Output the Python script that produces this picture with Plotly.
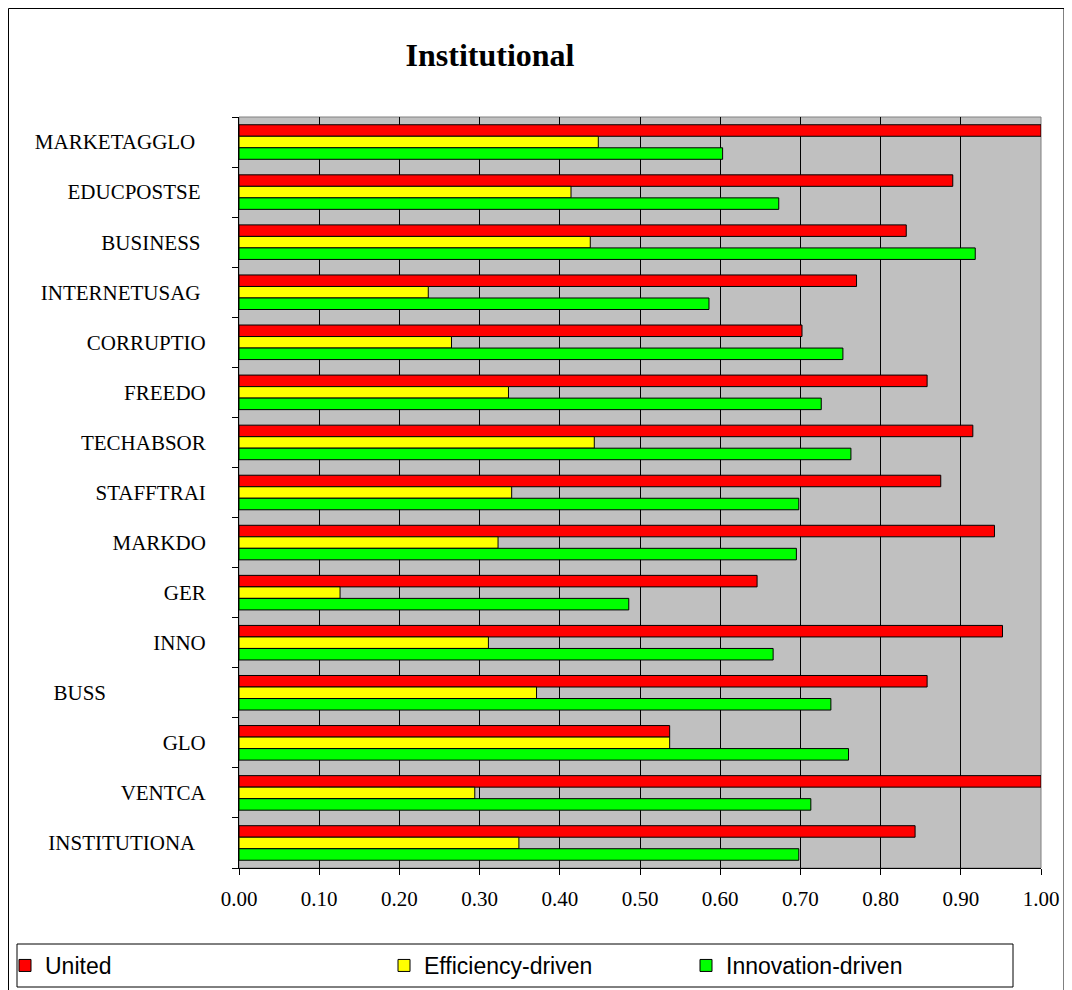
import plotly.graph_objects as go

categories = ["MARKETAGGLO", "EDUCPOSTSE", "BUSINESS", "INTERNETUSAG", "CORRUPTIO",
              "FREEDO", "TECHABSOR", "STAFFTRAI", "MARKDO", "GER", "INNO", "BUSS",
              "GLO", "VENTCA", "INSTITUTIONA"]
tick_labels = ["MARKETAGGLO\u00a0\u00a0", "EDUCPOSTSE\u00a0", "BUSINESS\u00a0", "INTERNETUSAG\u00a0",
               "CORRUPTIO", "FREEDO", "TECHABSOR", "STAFFTRAI", "MARKDO", "GER", "INNO",
               "BUSS" + "\u00a0" * 19, "GLO", "VENTCA", "INSTITUTIONA\u00a0\u00a0"]
united = [1.00, 0.890, 0.832, 0.770, 0.702, 0.858, 0.915, 0.875, 0.942, 0.646,
          0.952, 0.858, 0.537, 1.00, 0.843]
efficiency = [0.448, 0.414, 0.438, 0.236, 0.265, 0.336, 0.443, 0.340, 0.323, 0.126,
              0.311, 0.371, 0.537, 0.294, 0.349]
innovation = [0.603, 0.673, 0.918, 0.586, 0.753, 0.726, 0.763, 0.698, 0.695, 0.486,
              0.666, 0.738, 0.760, 0.713, 0.698]
x_ticks = [0.0, 0.1, 0.2, 0.3, 0.4, 0.5, 0.6, 0.7, 0.8, 0.9, 1.0]
x_tick_labels = ["0.00", "0.10", "0.20", "0.30", "0.40", "0.50", "0.60", "0.70", "0.80", "0.90", "1.00"]

series = [("United", united, "#FF0000", "legend"),
          ("Efficiency-driven", efficiency, "#FFFF00", "legend2"),
          ("Innovation-driven", innovation, "#00FF00", "legend3")]

fig = go.Figure()
for name, vals, color, lg in series:
    fig.add_trace(go.Bar(
        y=categories, x=vals, name=name, orientation="h",
        marker=dict(color=color, line=dict(color="black", width=1)),
        legend=lg, showlegend=True,
    ))

# page body has an 8px margin: work in screen coordinates, convert to figure
OFF = 8
SW, SH = 1072, 990
W, H = SW - OFF, SH - OFF
L, R, T, B = 239, 1041, 117, 868  # plot area in screen px

def px(v):
    return (v - L) / (R - L)

def py(v):
    return (B - v) / (B - T)

serif = "Liberation Serif, Times New Roman, serif"
sans = "Liberation Sans, Arial, sans-serif"

leg_common = dict(orientation="h", yanchor="middle", xanchor="left", y=py(965.5),
                  bgcolor="rgba(0,0,0,0)", borderwidth=0,
                  font=dict(family=sans, size=23, color="black"))

fig.update_layout(
    width=W, height=H,
    margin=dict(l=L - OFF, r=SW - R, t=T - OFF, b=SH - B, autoexpand=False),
    paper_bgcolor="white",
    plot_bgcolor="#C0C0C0",
    barmode="group",
    bargap=0.31,
    bargroupgap=0,
    showlegend=True,
    title=dict(text="<b>Institutional</b>", x=(490 - OFF) / W, xanchor="center",
               y=1 - (55 - OFF) / H, yanchor="middle", xref="container", yref="container",
               font=dict(family=serif, size=32, color="black")),
    legend=dict(x=px(5), **leg_common),
    legend2=dict(x=px(384), **leg_common),
    legend3=dict(x=px(686), **leg_common),
    xaxis=dict(range=[0, 1], tickvals=x_ticks, ticktext=x_tick_labels,
               showgrid=True, gridcolor="black", gridwidth=1,
               ticks="outside", ticklen=6, tickcolor="black",
               showline=True, linecolor="black", linewidth=1,
               zeroline=False, ticklabelstandoff=6,
               tickfont=dict(family=serif, size=21, color="black")),
    yaxis=dict(autorange="reversed", type="category",
               tickvals=categories, ticktext=tick_labels,
               tickson="boundaries", ticks="outside", ticklen=6, tickcolor="black",
               showgrid=False, showline=True, linecolor="black", linewidth=1,
               ticklabelstandoff=28,
               tickfont=dict(family=serif, size=21, color="black")),
    shapes=[
        dict(type="rect", xref="paper", yref="paper", x0=0, x1=1, y0=0, y1=1,
             line=dict(color="#808080", width=1), layer="below"),
        dict(type="rect", xref="paper", yref="paper",
             x0=px(17), x1=px(1013), y0=py(987), y1=py(944),
             line=dict(color="black", width=1), fillcolor="rgba(0,0,0,0)"),
        dict(type="rect", xref="paper", yref="paper",
             x0=px(8.5), x1=px(1064), y0=py(1010), y1=py(8.5),
             line=dict(color="black", width=1), fillcolor="rgba(0,0,0,0)"),
    ],
)

fig.write_html("out.html")
